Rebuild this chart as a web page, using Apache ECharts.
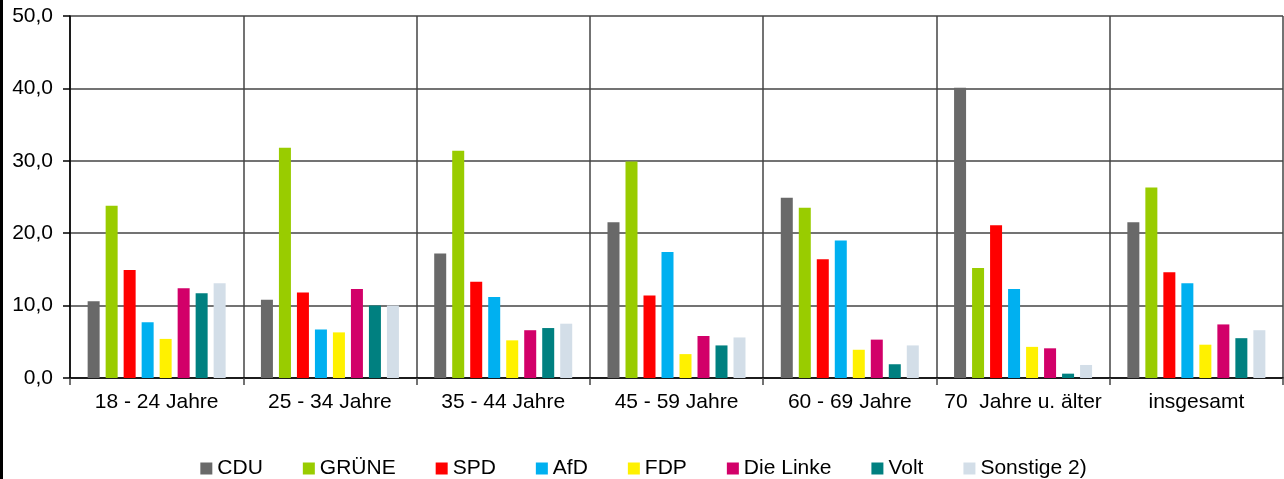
<!DOCTYPE html>
<html>
<head>
<meta charset="utf-8">
<script src="https://cdn.jsdelivr.net/npm/echarts@6/dist/echarts.min.js"></script>
<style>
  html, body { margin: 0; padding: 0; background: #fff; }
  #chart { width: 1281px; height: 479px; border-left: 3px solid #000; }
</style>
</head>
<body>
<div id="chart"></div>
<script>
const categories = ['18 - 24 Jahre', '25 - 34 Jahre', '35 - 44 Jahre', '45 - 59 Jahre', '60 - 69 Jahre', '70  Jahre u. älter', 'insgesamt']
const parties = ['CDU', 'GRÜNE', 'SPD', 'AfD', 'FDP', 'Die Linke', 'Volt', 'Sonstige 2)']
const colors = ['#696969', '#99cc00', '#ff0000', '#00b0f0', '#fff100', '#d20069', '#008080', '#d3dee8']

const cdu = [10.6, 10.8, 17.2, 21.5, 24.9, 40.1, 21.5]
const gruene = [23.8, 31.8, 31.4, 29.9, 23.5, 15.2, 26.3]
const spd = [14.9, 11.8, 13.3, 11.4, 16.4, 21.1, 14.6]
const afd = [7.7, 6.7, 11.2, 17.4, 19.0, 12.3, 13.1]
const fdp = [5.4, 6.3, 5.2, 3.3, 3.9, 4.3, 4.6]
const linke = [12.4, 12.3, 6.6, 5.8, 5.3, 4.1, 7.4]
const volt = [11.7, 10.0, 6.9, 4.5, 1.9, 0.6, 5.5]
const sonstige = [13.1, 10.0, 7.5, 5.6, 4.5, 1.8, 6.6]
const seriesData = [cdu, gruene, spd, afd, fdp, linke, volt, sonstige]

const chart = echarts.init(document.getElementById('chart'))
const font = 'Liberation Sans, Arial, sans-serif'

chart.setOption({
  animation: false,
  textStyle: { fontFamily: font },
  grid: { left: 67, right: 1, top: 16, bottom: 101 },
  legend: {
    data: parties,
    left: 'center',
    top: 453,
    itemWidth: 12,
    itemHeight: 12,
    itemGap: 40,
    icon: 'rect',
    textStyle: { fontSize: 21, color: '#000', fontFamily: font },
  },
  xAxis: {
    type: 'category',
    data: categories,
    axisLine: { lineStyle: { color: '#000', width: 1.5 } },
    axisTick: { show: true, interval: 0, length: 7, lineStyle: { color: '#444', width: 1.5 } },
    axisLabel: { interval: 0, fontSize: 21, color: '#000', margin: 14 },
    splitLine: { show: true, interval: 0, lineStyle: { color: '#444', width: 1.5 } },
  },
  yAxis: {
    type: 'value',
    min: 0,
    max: 50,
    interval: 10,
    axisLine: { show: true, lineStyle: { color: '#000', width: 1.5 } },
    axisTick: { show: true, length: 7, lineStyle: { color: '#000', width: 1.5 } },
    axisLabel: {
      fontSize: 21,
      color: '#000',
      margin: 17,
      formatter: (v) => v.toFixed(1).replace('.', ','),
    },
    splitLine: { lineStyle: { color: '#444', width: 1.5 } },
  },
  series: parties.map((name, i) => ({
    name,
    type: 'bar',
    data: seriesData[i],
    barWidth: 12,
    barGap: '50%',
    itemStyle: { color: colors[i] },
  })),
})
</script>
</body>
</html>
